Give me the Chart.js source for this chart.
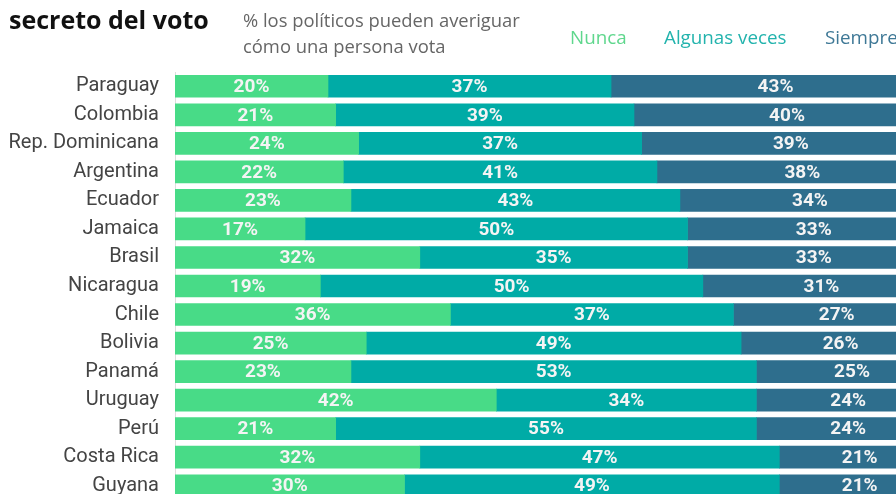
<!DOCTYPE html>
<html>
<head>
<meta charset="utf-8">
<script src="https://cdn.jsdelivr.net/npm/chart.js@4"></script>
<style>
  body { margin: 0; overflow: hidden; background: #fff; }
  #wrap { position: relative; width: 945px; height: 528px; }
  .t { position: absolute; white-space: nowrap; }
  #title { left: 9px; top: 2px; font: bold 25px "Open Sans", sans-serif; color: #111; }
  #sub { left: 243px; top: 7px; font: 18.4px "Open Sans", sans-serif; color: #666; line-height: 26px; }
  .leg { top: 24px; font: 18.8px "Open Sans", sans-serif; }
</style>
</head>
<body>
<div id="wrap">
  <div class="t" id="title">secreto del voto</div>
  <div class="t" id="sub">% los políticos pueden averiguar<br>cómo una persona vota</div>
  <div class="t leg" style="left:570px;color:#5fd78d">Nunca</div>
  <div class="t leg" style="left:664px;color:#22b3ad">Algunas veces</div>
  <div class="t leg" style="left:825px;color:#3e7896">Siempre</div>
  <canvas id="graph" width="945" height="528"></canvas>
</div>
<script>
const ctx = document.getElementById("graph");

const countries = [
  "Paraguay",
  "Colombia",
  "Rep. Dominicana",
  "Argentina",
  "Ecuador",
  "Jamaica",
  "Brasil",
  "Nicaragua",
  "Chile",
  "Bolivia",
  "Panamá",
  "Uruguay",
  "Perú",
  "Costa Rica",
  "Guyana",
];

const nunca = [20, 21, 24, 22, 23, 17, 32, 19, 36, 25, 23, 42, 21, 32, 30];
const algunas = [37, 39, 37, 41, 43, 50, 35, 50, 37, 49, 53, 34, 55, 47, 49];
const siempre = [43, 40, 39, 38, 34, 33, 33, 31, 27, 26, 25, 24, 24, 21, 21];

// draws the % inside every segment
const barLabels = {
  id: "barLabels",
  afterDatasetsDraw(chart) {
    const c = chart.ctx;
    c.save();
    c.font = 'bold 19px "Roboto", sans-serif';
    c.fillStyle = "#f4f4f4";
    c.textAlign = "center";
    c.textBaseline = "middle";
    chart.data.datasets.forEach((ds, i) => {
      chart.getDatasetMeta(i).data.forEach((bar, j) => {
        c.fillText(ds.data[j] + "%", (bar.x + bar.base) / 2, bar.y + 1);
      });
    });
    c.restore();
  },
};

new Chart(ctx, {
  type: "bar",
  data: {
    labels: countries,
    datasets: [
      { label: "Nunca", data: nunca, backgroundColor: "#48db87" },
      { label: "Algunas veces", data: algunas, backgroundColor: "#00aba6" },
      { label: "Siempre", data: siempre, backgroundColor: "#2e6e8d" },
    ],
  },
  plugins: [barLabels],
  options: {
    indexAxis: "y",
    responsive: false,
    animation: false,
    barThickness: 22,
    layout: {
      padding: { top: 72, right: 5, bottom: 0.5, left: 0 },
    },
    plugins: {
      legend: { display: false },
      tooltip: { enabled: false },
    },
    scales: {
      x: {
        stacked: true,
        min: 0,
        max: 100,
        display: false,
      },
      y: {
        stacked: true,
        afterFit: (scale) => {
          scale.width = 175;
        },
        ticks: {
          padding: 16,
          color: "#444",
          font: {
            family: '"Roboto", sans-serif',
            size: 20,
          },
        },
        grid: {
          display: false,
          drawTicks: false,
        },
        border: {
          color: "#dddddd",
        },
      },
    },
  },
});
</script>
</body>
</html>
